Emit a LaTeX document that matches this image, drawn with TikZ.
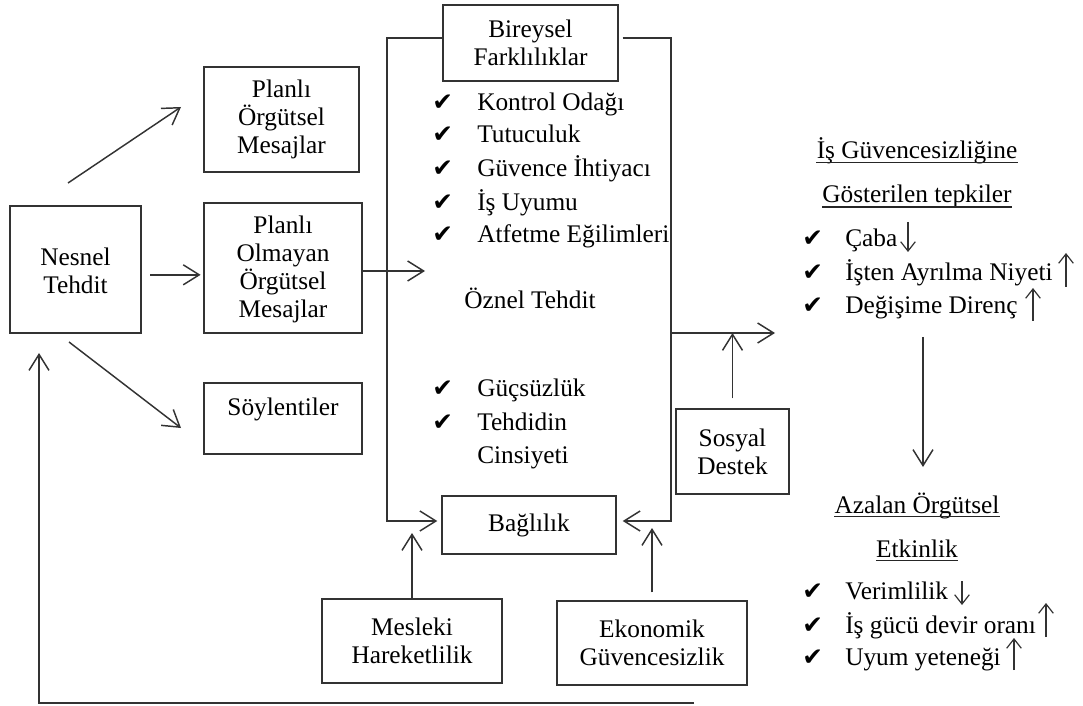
\documentclass[tikz,border=0pt]{standalone}
\usepackage{fontspec}
\setmainfont{Liberation Serif}
\newfontfamily\chkfont{DejaVu Sans}
\usetikzlibrary{arrows.meta,calc}
\tikzset{
  bx/.style 2 args={draw=black!80, line width=1.1pt, minimum width=#1*0.75pt, minimum height=#2*0.75pt, inner sep=0pt, align=center},
  ln/.style={draw=black!80, line width=1.1pt},
  arr/.style={ln, -{Straight Barb[length=12pt,width=15pt,line width=1.1pt]}},
  sarr/.style={draw=black!80, line width=0.9pt, -{Straight Barb[length=7pt,width=11pt,line width=0.9pt]}},
  txt/.style={anchor=base west, inner sep=0pt},
  ctr/.style={anchor=base, inner sep=0pt},
  chk/.style={anchor=base west, inner sep=0pt, font=\chkfont\fontsize{18.5}{20}\selectfont},
  ulline/.style={draw=black!85, line width=0.8pt}
}
\begin{document}
\begin{tikzpicture}[x=0.75pt, y=-0.75pt, font=\fontsize{19}{21}\selectfont]
\useasboundingbox (0,0) rectangle (1083,706);

% boxes
\node[bx={131}{127}] (nes) at (75.5,269.5) {\\[-6pt]Nesnel\\Tehdit};
\node[bx={155}{105}] (po) at (281.5,119.5) {Planlı\\Örgütsel\\Mesajlar};
\node[bx={158}{130}] (pom) at (283,268) {\\[-6pt]Planlı\\Olmayan\\Örgütsel\\Mesajlar};
\node[bx={158}{71}] (soy) at (283,418.5) {Söylentiler\\[-10pt]\strut};
\node[bx={175}{76}] (bir) at (530.5,43) {Bireysel\\Farklılıklar};
\node[bx={174}{58}] (bag) at (529,525) {Bağlılık};
\node[bx={113}{85}] (sos) at (732.5,451.5) {Sosyal\\Destek};
\node[bx={180}{84}] (mes) at (412,641) {Mesleki\\Hareketlilik};
\node[bx={190}{84}] (eko) at (652,643) {Ekonomik\\Güvencesizlik};

% left list inside big frame
\node[chk] (lc1) at (432,111) {✔};
\node[txt] (l1) at (477,111) {Kontrol Odağı};
\node[chk] (lc2) at (432,143) {✔};
\node[txt] (l2) at (477,143) {Tutuculuk};
\node[chk] (lc3) at (432,177) {✔};
\node[txt] (l3) at (477,177) {Güvence İhtiyacı};
\node[chk] (lc4) at (432,211) {✔};
\node[txt] (l4) at (477,211) {İş Uyumu};
\node[chk] (lc5) at (432,243) {✔};
\node[txt] (l5) at (477,243) {Atfetme Eğilimleri};
\node[ctr] (oz) at (530,309) {Öznel Tehdit};
\node[chk] (lc6) at (432,397) {✔};
\node[txt] (l6) at (477,397) {Güçsüzlük};
\node[chk] (lc7) at (432,430) {✔};
\node[txt] (l7) at (477,430) {Tehdidin};
\node[txt] (l8) at (477,463) {Cinsiyeti};

% right texts
\node[ctr] (h1) at (917,159) {İş Güvencesizliğine};
\node[ctr] (h2) at (917,203) {Gösterilen tepkiler};
\draw[ulline] ([yshift=-2.5pt]h1.base west) -- ([yshift=-2.5pt]h1.base east);
\draw[ulline] ([yshift=-3pt]h2.base west) -- ([yshift=-3pt]h2.base east);
\node[chk] (rc1) at (802,247) {✔};
\node[txt] (r1) at (845,247) {Çaba};
\node[chk] (rc2) at (802,281) {✔};
\node[txt] (r2) at (845,281) {İşten Ayrılma Niyeti};
\node[chk] (rc3) at (802,314) {✔};
\node[txt] (r3) at (845,314) {Değişime Direnç};

\node[ctr] (h3) at (917,513) {Azalan Örgütsel};
\node[ctr] (h4) at (917,557) {Etkinlik};
\draw[ulline] ([yshift=-2.5pt]h3.base west) -- ([yshift=-2.5pt]h3.base east);
\draw[ulline] ([yshift=-2.5pt]h4.base west) -- ([yshift=-2.5pt]h4.base east);
\node[chk] (rc4) at (802,599) {✔};
\node[txt] (r4) at (845,599) {Verimlilik};
\node[chk] (rc5) at (802,633) {✔};
\node[txt] (r5) at (845,633) {İş gücü devir oranı};
\node[chk] (rc6) at (802,665) {✔};
\node[txt] (r6) at (845,665) {Uyum yeteneği};

% coordinates
\coordinate (a1s) at (68,183);
\coordinate (a1e) at (181,107);
\coordinate (a3s) at (69,342);
\coordinate (a3e) at (181,428);
\coordinate (in1) at (425,271);
\coordinate (bl) at (387,38);
\coordinate (bl2) at (387,521);
\coordinate (br) at (671,38);
\coordinate (br2) at (671,521);
\coordinate (out1) at (671,333);
\coordinate (out2) at (775,333);
\coordinate (mtip) at (412,533);
\coordinate (etip) at (652,528);
\coordinate (fb1) at (694,703);
\coordinate (fb2) at (39,703);
\coordinate (fb3) at (39,353);
\coordinate (d1) at (923,337);
\coordinate (d2) at (923,467);

% connectors
\draw[arr] (a1s) -- (a1e);
\draw[arr, shorten <=6.5pt, shorten >=2pt] ([yshift=-4pt]nes.east) -- ([yshift=-4pt]nes.east -| pom.west);
\draw[arr] (a3s) -- (a3e);
\draw[arr] ([yshift=-2.25pt]pom.east) -- (in1);
\draw[arr] ([yshift=3.75pt]bir.west) -- (bl) -- (bl2) -- ([yshift=3pt,xshift=-3pt]bag.west);
\draw[arr] ([yshift=3.75pt,xshift=3pt]bir.east) -- (br) -- (br2) -- ([yshift=3pt,xshift=4.5pt]bag.east);
\draw[arr] (out1) -- (out2);
\draw[arr] ([yshift=7.5pt]sos.north) -- (sos.north |- out1);
\draw[arr] (mes.north) -- (mtip);
\draw[arr] ([yshift=6pt]eko.north) -- (etip);
\draw[arr] (fb1) -- (fb2) -- (fb3);
\draw[arr] (d1) -- (d2);

% small trend arrows
\draw[sarr] (908,222) -- (908,252);
\draw[sarr] (1066,287) -- (1066,253);
\draw[sarr] (1033,321) -- (1033,288);
\draw[sarr] (962,581) -- (962,605);
\draw[sarr] (1046,637) -- (1046,603);
\draw[sarr] (1014,670) -- (1014,638);
\end{tikzpicture}
\end{document}
